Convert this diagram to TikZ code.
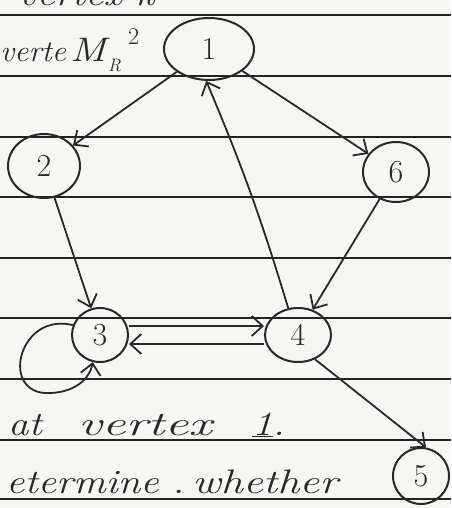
\documentclass[tikz,border=0pt]{standalone}
\usetikzlibrary{arrows.meta,shapes.geometric}
\definecolor{paper}{RGB}{246,246,244}
\definecolor{ink}{RGB}{40,40,40}
\definecolor{rule}{RGB}{35,35,35}
\newcommand{\hw}[2][1.2]{\scalebox{#1}[1]{#2}}
\begin{document}
\begin{tikzpicture}[x=1pt,y=-1pt,
  vtx/.style={draw=ink,line width=2pt,ellipse,inner sep=0pt,text=ink,font=\fontsize{32}{34}\selectfont},
  edge/.style={draw=ink,line width=1.8pt,-{Straight Barb[length=11pt,width=20pt,line width=1.8pt]}},
  hand/.style={text=ink,font=\itshape\fontsize{34}{36}\selectfont,anchor=base west,inner sep=0pt}]
\fill[paper] (0,0) rectangle (451,508);
\useasboundingbox (0,0) rectangle (451,508);
\begin{scope}
\clip (0,0) rectangle (451,508);
\foreach \yy in {15,76,137,197,258,318,379,440,499}
  \draw[rule,line width=2.6pt] (0,\yy) -- (451,\yy);
\node[hand] (top) at (18,6) {\hw{vertex k}};
% vertices
\node[vtx,minimum width=90pt,minimum height=62pt] (n1) at (209,49) {1};
\node[vtx,minimum width=72pt,minimum height=64pt] (n2) at (44,166) {2};
\node[vtx,minimum width=66pt,minimum height=60pt] (n6) at (396,172) {6};
\node[vtx,minimum width=56pt,minimum height=54pt] (n3) at (100,335) {3};
\node[vtx,minimum width=66pt,minimum height=54pt] (n4) at (298,335) {4};
\node[vtx,minimum width=56pt,minimum height=56pt] (n5) at (421,476) {5};
% edges
\draw[edge] (n1) -- (n2);
\draw[edge] (n1) -- (n6);
\draw[edge] (n4.110) to[bend right=3] (n1.265);
\draw[edge] (n2) -- (n3);
\draw[edge] (n6) -- (n4.60);
\draw[edge] ([yshift=9pt]n3.east) -- ([yshift=9pt]n4.west);
\draw[edge] ([yshift=-9pt]n4.west) -- ([yshift=-9pt]n3.east);
\draw[edge] (n4.305) -- (n5.80);
\draw[edge] (n3.160) .. controls (20,312) and (0,390) .. (45,393)
  .. controls (75,394) and (90,378) .. (n3.255);
% text
\node[hand,font=\itshape\fontsize{30}{32}\selectfont] (t1) at (0,62) {\hw[1.05]{verte}};
\node[hand] (t2) at (70,62) {\hw{M}};
\node[hand,font=\itshape\fontsize{18}{20}\selectfont] (t2r) at (108,72) {R};
\node[hand,font=\fontsize{24}{26}\selectfont] (t2s) at (128,45) {2};
\node[hand] (t3) at (8,435) {\hw{at}};
\node[hand] (t3b) at (78,435) {\hw[1.55]{vertex}};
\node[hand] (t3c) at (252,435) {\hw{\underline{1}.}};
\node[hand] (t4) at (6,493) {\hw{etermine}};
\node[hand] (t4b) at (172,493) {\hw{.}};
\node[hand] (t4c) at (192,493) {\hw[1.3]{whether}};
\end{scope}
\end{tikzpicture}
\end{document}
